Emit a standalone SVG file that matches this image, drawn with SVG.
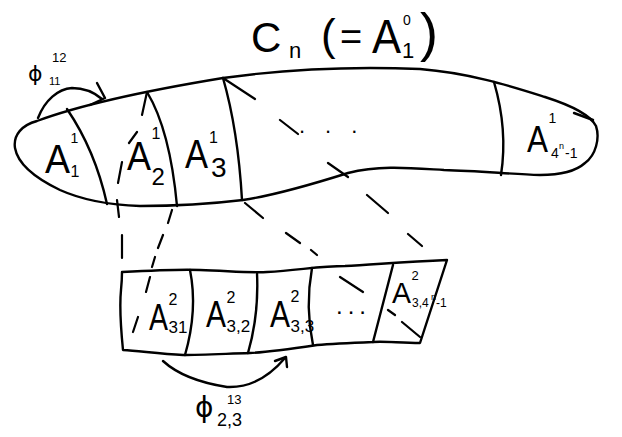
<svg xmlns="http://www.w3.org/2000/svg" width="622" height="437" viewBox="0 0 622 437">
<style>
.s{fill:none;stroke:#000;stroke-width:2.4;stroke-linecap:round;stroke-linejoin:round}
.d{fill:none;stroke:#000;stroke-width:2.2;stroke-linecap:round}
text{font-family:"Liberation Sans",Arial,sans-serif;fill:#000}
.phi{font-family:"DejaVu Sans","Liberation Sans",sans-serif}
</style>
<rect width="622" height="437" fill="#fff"/>
<g id="title">
<text x="251" y="52" font-size="42">C</text>
<text x="289" y="58" font-size="22">n</text>
<text x="321" y="50" font-size="44">(</text>
<text x="340" y="50" font-size="38">=</text>
<text x="372" y="53" font-size="48" textLength="29" lengthAdjust="spacingAndGlyphs">A</text>
<text x="403" y="25" font-size="14">0</text>
<text x="402" y="58" font-size="22">1</text>
<text x="420" y="51" font-size="54">)</text>
</g>
<g id="top-strip">
<path class="s" d="M37,121 C80,105 150,90 223,78 C280,70 350,66 420,69 C470,73 510,86 545,97 C570,105 590,114 596,126 C600,138 596,155 585,163 C575,172 560,175 540,175 C510,174 480,171 444,170 C410,168 380,165 348,173 C310,185 270,196 243,200 C210,204 170,206 140,206 C110,205 80,199 60,190 C35,178 18,165 15,148 C13,135 22,125 37,121 Z"/>
<path class="s" d="M574,113 L593,120"/>
</g>
<g id="A1-1">
<path class="s" d="M67,109 Q95,150 107,204"/>
<text x="45" y="173" font-size="40" textLength="25" lengthAdjust="spacingAndGlyphs">A</text>
<text x="70.5" y="143" font-size="14">1</text>
<text x="70.5" y="177" font-size="16">1</text>
</g>
<g id="A1-2">
<path class="s" d="M147,92 Q170,130 177,206"/>
<text x="127" y="170" font-size="40" textLength="24" lengthAdjust="spacingAndGlyphs">A</text>
<text x="151.5" y="139" font-size="16">1</text>
<text x="151.5" y="185" font-size="24">2</text>
</g>
<g id="A1-3">
<path class="s" d="M223,78 Q238,130 242,200"/>
<text x="185" y="168" font-size="40" textLength="23" lengthAdjust="spacingAndGlyphs">A</text>
<text x="209" y="143" font-size="16">1</text>
<text x="211" y="177" font-size="28">3</text>
</g>
<g id="A1-dots">
<text x="299" y="133" font-size="22" letter-spacing="20">...</text>
</g>
<g id="A1-last">
<path class="s" d="M494,82 Q508,130 501,175"/>
<text x="527" y="152" font-size="36" textLength="21" lengthAdjust="spacingAndGlyphs">A</text>
<text x="548.5" y="123" font-size="14">1</text>
<text x="551" y="158" font-size="14">4</text>
<text x="559" y="149" font-size="9">n</text>
<text x="565" y="158" font-size="14">-1</text>
</g>
<g id="lower-strip">
<path class="s" d="M122,272 C160,270 180,269 200,270 C230,271 250,273 267,272 C300,270 320,266 345,266 C370,265 400,262 447,260 L420,343 C400,343 385,341 373,342 C350,343 330,344 317,345 C290,349 270,352 250,353 C220,354 200,355 183,355 C160,354 140,351 123,350 C121,330 119,310 121,290 C122,280 122,275 122,272 Z"/>
</g>
<g id="A2-31">
<path class="s" d="M190,270 Q198,310 185,355"/>
<text x="149" y="330" font-size="36" textLength="19" lengthAdjust="spacingAndGlyphs">A</text>
<text x="168.5" y="305" font-size="16">2</text>
<text x="168.5" y="333" font-size="17">31</text>
</g>
<g id="A2-32">
<path class="s" d="M257,273 Q259,315 248,353"/>
<text x="206" y="327" font-size="36" textLength="20" lengthAdjust="spacingAndGlyphs">A</text>
<text x="226.5" y="303" font-size="16">2</text>
<text x="226.5" y="332" font-size="17">3,2</text>
</g>
<g id="A2-33">
<path class="s" d="M312,268 Q305,307 313,345"/>
<text x="270" y="327" font-size="36" textLength="20" lengthAdjust="spacingAndGlyphs">A</text>
<text x="290.5" y="302" font-size="16">2</text>
<text x="290.5" y="332" font-size="17">3,3</text>
</g>
<g id="A2-dots">
<text x="336" y="314" font-size="24" letter-spacing="5">...</text>
</g>
<g id="A2-last">
<path class="s" d="M393,265 L373,342"/>
<text x="392" y="303" font-size="30" textLength="19" lengthAdjust="spacingAndGlyphs">A</text>
<text x="411.5" y="280" font-size="13">2</text>
<text x="412" y="307" font-size="12">3,4</text>
<text x="431" y="300" font-size="9">n</text>
<text x="436" y="307" font-size="12">-1</text>
</g>
<g id="connectors">
<path class="d" d="M223,78 L255,99 M280,120 L298,134 M328,163 L348,177 M367,195 L388,213 M408,234 L422,246"/>
<path class="d" d="M245,203 L263,218 M286,233 L300,243 M311,250 L317,255 M340,277 L363,292 M388,310 L395,315 M402,322 L420,337"/>
<path class="d" d="M147,92 L142,115 M137,132 L129,143 M122,162 L118,183 M117,200 L119,217 M122,235 L122,258"/>
<path class="d" d="M172,210 L168,223 M163,235 L158,248 M155,257 L152,267 M150,277 L146,292 M138,317 L133,332"/>
<path class="s" d="M38,118 C45,100 58,89 72,88 C85,88 95,93 102,99"/>
<path class="s" d="M97,83 L105,98 L90,105"/>
<path class="s" d="M163,361 C175,372 195,382 227,387 C250,388 268,378 285,358"/>
<path class="s" d="M275,361 L286,357 L287,367"/>
</g>
<g id="labels-phi">
<text class="phi" x="28" y="81" font-size="22">ϕ</text>
<text x="52" y="62" font-size="13">12</text>
<text x="49" y="85" font-size="11">11</text>
<text class="phi" x="195" y="417" font-size="28">ϕ</text>
<text x="227" y="404" font-size="13">13</text>
<text x="217" y="426" font-size="18">2,3</text>
</g>
</svg>
